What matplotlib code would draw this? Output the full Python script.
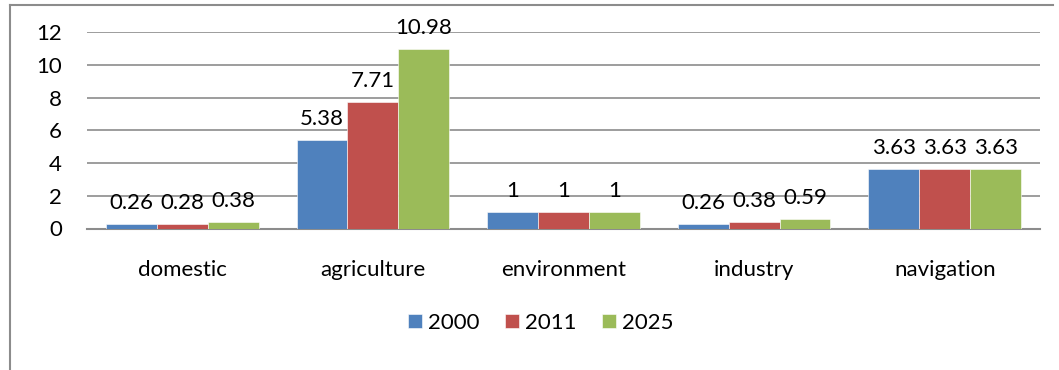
import matplotlib.pyplot as plt
import matplotlib.lines as mlines
import numpy as np

plt.rcParams['font.family'] = ['Lato', 'DejaVu Sans']

# ================== Data ==================
categories = ["domestic", "agriculture", "environment", "industry", "navigation"]
years = ["2000", "2011", "2025"]
values_2000 = [0.26, 5.38, 1, 0.26, 3.63]
values_2011 = [0.28, 7.71, 1, 0.38, 3.63]
values_2025 = [0.38, 10.98, 1, 0.59, 3.63]
colors = ["#4F81BD", "#C0504D", "#9BBB59"]

series = [values_2000, values_2011, values_2025]
FS = 16

# ================== Figure ==================
fig = plt.figure(figsize=(10.59, 3.70), dpi=100)
ax = fig.add_axes([87 / 1059, 1 - 228.5 / 370, (1040 - 87) / 1059, (228.5 - 32) / 370])

x = np.arange(len(categories))
bar_w = 0.8 / 3
for i, (vals, col, yr) in enumerate(zip(series, colors, years)):
    pos = x + (i - 1) * bar_w
    bars = ax.bar(pos, vals, width=bar_w, color=col, label=yr, zorder=3,
                  edgecolor="white", linewidth=0.4)
    for b, v in zip(bars, vals):
        ax.annotate(f"{v:g}", (b.get_x() + b.get_width() / 2, v),
                    xytext=(0, 8), textcoords="offset points",
                    ha="center", va="bottom", fontsize=FS, zorder=4)

ax.set_xlim(-0.5, len(categories) - 0.5)
ax.set_ylim(0, 12)
ax.set_yticks(range(0, 13, 2))
ax.yaxis.grid(True, color="#8C8C8C", linewidth=1.2, zorder=0)
ax.set_axisbelow(True)
for s in ["top", "right", "left"]:
    ax.spines[s].set_visible(False)
ax.spines["bottom"].set_color("#8C8C8C")
ax.spines["bottom"].set_linewidth(1.5)
ax.tick_params(axis="both", length=0, labelsize=FS)
ax.tick_params(axis="y", pad=18)
ax.tick_params(axis="x", pad=23)
ax.set_xticks(x)
ax.set_xticklabels(categories)

fig.legend(loc="center", bbox_to_anchor=(541 / 1059, 1 - 323 / 370), ncol=3,
           frameon=False, fontsize=FS, handlelength=0.6, handleheight=0.6,
           handletextpad=0.3, columnspacing=1.15)

# chart border (left and top edges)
fig.add_artist(mlines.Line2D([10 / 1059, 10 / 1059], [0, 1 - 5 / 370],
                             color="#8C8C8C", linewidth=1.5))
fig.add_artist(mlines.Line2D([10 / 1059, 1053 / 1059], [1 - 5 / 370, 1 - 5 / 370],
                             color="#8C8C8C", linewidth=1.5))

fig.savefig("out.png", dpi=100)
